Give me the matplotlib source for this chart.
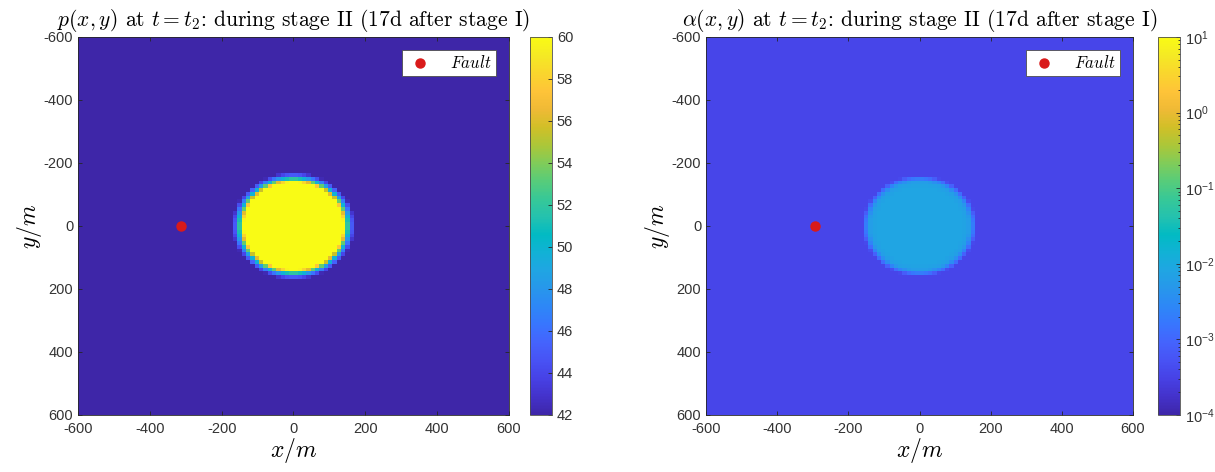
import numpy as np
import matplotlib
matplotlib.use("Agg")
import matplotlib.pyplot as plt
from matplotlib.colors import LinearSegmentedColormap, LogNorm, Normalize

# radial profiles of the injected plume (distance from well in m -> field value)
p_r = [0, 138, 146, 154, 162, 170]
p_val = [60.5, 60.5, 55.0, 49.0, 45.0, 42.0]

alpha_r = [0, 125, 140, 150, 160]
alpha_val = [8e-3, 8e-3, 6e-3, 2e-3, 3.5e-4]

well_xy = (0.0, 0.0)
fault_xy = [(-313.0, 0.0), (-295.0, 0.0)]

extent = 600.0
n_cells = 100
ticks = [-600, -400, -200, 0, 200, 400, 600]
p_cticks = [42, 44, 46, 48, 50, 52, 54, 56, 58, 60]
alpha_cticks = [1e-4, 1e-3, 1e-2, 1e-1, 1e0, 1e1]

titles = [r"$p(x,y)$ at $t=t_2$: during stage II (17d after stage I)",
          r"$\alpha(x,y)$ at $t=t_2$: during stage II (17d after stage I)"]

# matlab parula, sampled
parula_rgb = [
    (0.2422, 0.1504, 0.6603), (0.2647, 0.1978, 0.7952), (0.2783, 0.2559, 0.8991),
    (0.2810, 0.3228, 0.9579), (0.2699, 0.3892, 0.9906), (0.2206, 0.4603, 0.9973),
    (0.1786, 0.5289, 0.9682), (0.1540, 0.5902, 0.9218), (0.1248, 0.6459, 0.8883),
    (0.0689, 0.6948, 0.8394), (0.0067, 0.7312, 0.7660), (0.1408, 0.7584, 0.6842),
    (0.2161, 0.7843, 0.5923), (0.3406, 0.8008, 0.4789), (0.5044, 0.7993, 0.3480),
    (0.6720, 0.7793, 0.2227), (0.8203, 0.7498, 0.1535), (0.9393, 0.7288, 0.2100),
    (0.9970, 0.7659, 0.2199), (0.9786, 0.8386, 0.1766), (0.9597, 0.9135, 0.1423),
    (0.9769, 0.9839, 0.0805)]
parula = LinearSegmentedColormap.from_list("parula", parula_rgb, N=256)

plt.rcParams["mathtext.fontset"] = "cm"
plt.rcParams["font.family"] = ["Liberation Sans", "DejaVu Sans"]
plt.rcParams["axes.unicode_minus"] = False

edges = np.linspace(-extent, extent, n_cells + 1)
centers = 0.5 * (edges[:-1] + edges[1:])
X, Y = np.meshgrid(centers, centers)
R = np.hypot(X - well_xy[0], Y - well_xy[1])

P = np.interp(R, p_r, p_val)
A = 10 ** np.interp(R, alpha_r, np.log10(alpha_val))

fig = plt.figure(figsize=(12.15, 4.72), dpi=100)
ax_pos = [[0.0642, 0.1208, 0.3547, 0.8010], [0.5811, 0.1208, 0.3514, 0.8010]]
cb_pos = [[0.4362, 0.1208, 0.0181, 0.8010], [0.9531, 0.1208, 0.0181, 0.8010]]

fields = [(P, Normalize(42, 60), p_cticks), (A, LogNorm(1e-4, 1e1), alpha_cticks)]

for k, (Z, norm, cticks) in enumerate(fields):
    ax = fig.add_axes(ax_pos[k])
    mesh = ax.pcolormesh(edges, edges, Z, cmap=parula, norm=norm, shading="flat")
    ax.plot(fault_xy[k][0], fault_xy[k][1], "o", color=(0.85, 0.1, 0.1), ms=6.5,
            label=r"$Fault$", ls="none")
    ax.set_xlim(-extent, extent)
    ax.set_ylim(extent, -extent)
    ax.set_xticks(ticks)
    ax.set_yticks(ticks)
    ax.tick_params(direction="in", length=3, width=0.6, top=True, right=True,
                   labelsize=10.5, colors="0.15", labelcolor="0.2")
    ax.tick_params(axis="x", pad=5)
    for s in ax.spines.values():
        s.set_linewidth(0.6)
        s.set_color("0.15")
    ax.set_xlabel(r"$x/m$", fontsize=17, labelpad=0)
    ax.set_ylabel(r"$y/m$", fontsize=17, labelpad=0)
    ax.set_title(titles[k], fontsize=15.5, pad=8, fontfamily="cmr10")
    leg = ax.legend(loc="upper right", fontsize=12, frameon=True, fancybox=False,
                    framealpha=1, facecolor="white", borderpad=0.25,
                    handletextpad=1.0, handlelength=1.6, borderaxespad=0.8)
    leg.get_frame().set_edgecolor("0.3")
    leg.get_frame().set_linewidth(0.6)

    cax = fig.add_axes(cb_pos[k])
    cb = fig.colorbar(mesh, cax=cax, ticks=cticks)
    cb.outline.set_linewidth(0.6)
    cb.outline.set_edgecolor("0.3")
    cax.tick_params(which="both", direction="in", labelsize=10.5, colors="0.15",
                    labelcolor="0.2", length=3, width=0.6)
    cax.tick_params(which="minor", length=1.5)

fig.savefig("out.png", dpi=100)
